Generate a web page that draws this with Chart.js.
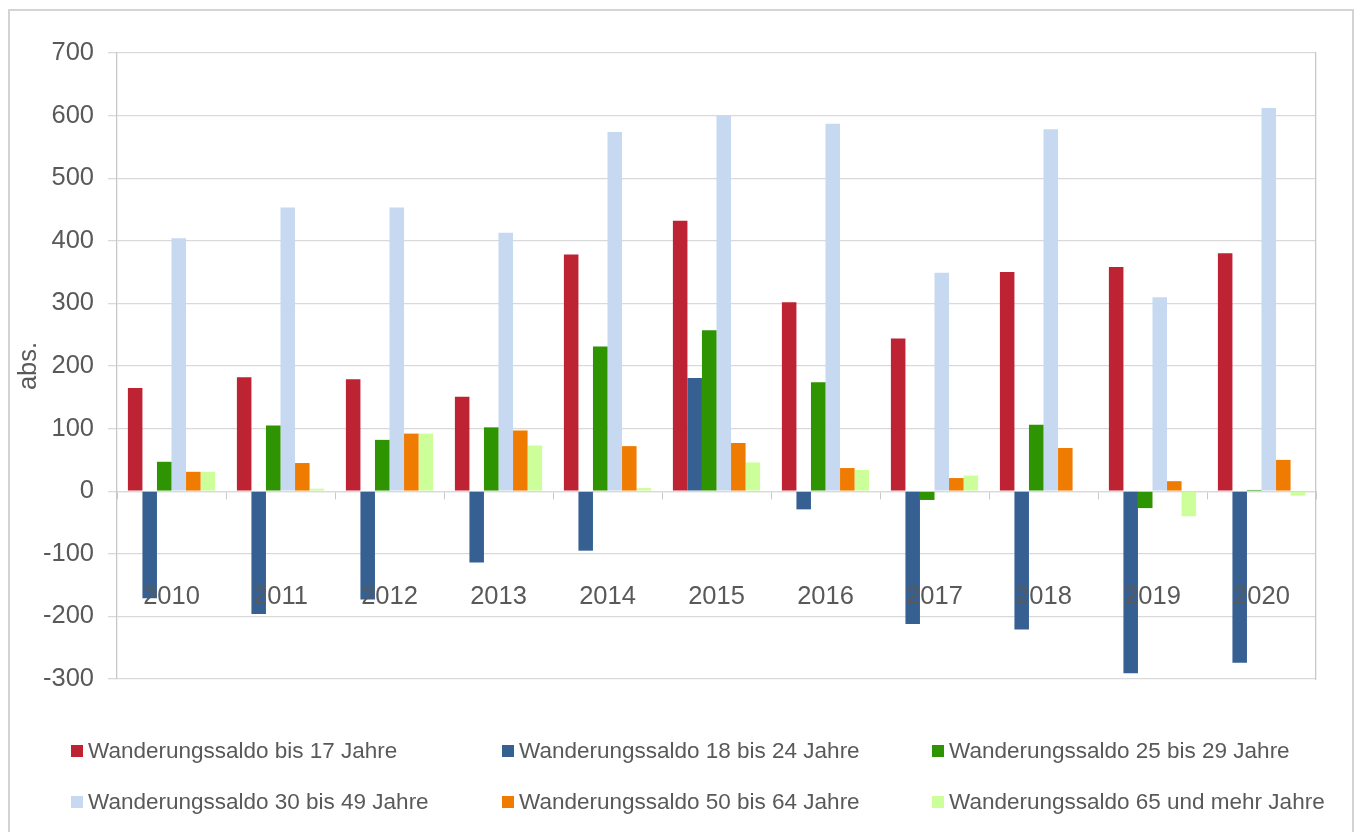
<!DOCTYPE html>
<html>
<head>
<meta charset="utf-8">
<script src="https://cdn.jsdelivr.net/npm/chart.js@4.4.1/dist/chart.umd.min.js"></script>
<style>
  html, body { margin: 0; padding: 0; background: #fff; width: 1354px; height: 832px; overflow: hidden; }
  #frame { position: absolute; left: 8px; top: 9px; width: 1346px; height: 900px; border: 2px solid #d4d4d4; box-sizing: border-box; }
  #wrap { position: absolute; left: 0; top: 0; width: 1354px; height: 832px; }
  #legend { position: absolute; left: 0; top: 0; width: 1354px; height: 832px; pointer-events: none;
            font-family: "Liberation Sans", Arial, sans-serif; font-size: 22.5px; color: #595959; }
  .item { position: absolute; display: flex; align-items: center; white-space: nowrap; height: 26px; }
  .box { width: 12px; height: 12px; margin-right: 5px; }
</style>
</head>
<body>
<div id="frame"></div>
<div id="wrap"><canvas id="c" width="1354" height="832"></canvas></div>
<div id="legend"></div>
<script>
// ---- data ----
const years = ['2010', '2011', '2012', '2013', '2014', '2015', '2016', '2017', '2018', '2019', '2020'];
const seriesLabels = [
  'Wanderungssaldo bis 17 Jahre',
  'Wanderungssaldo 18 bis 24 Jahre',
  'Wanderungssaldo 25 bis 29 Jahre',
  'Wanderungssaldo 30 bis 49 Jahre',
  'Wanderungssaldo 50 bis 64 Jahre',
  'Wanderungssaldo 65 und mehr Jahre'
];
const bis17   = [165, 182, 179, 151, 378, 432, 302, 244, 350, 358, 380];
const von18   = [-171, -196, -173, -114, -95, 181, -29, -212, -221, -291, -274];
const von25   = [47, 105, 82, 102, 231, 257, 174, -14, 106, -27, 2];
const von30   = [404, 453, 453, 413, 574, 600, 587, 349, 578, 310, 612];
const von50   = [31, 45, 92, 97, 72, 77, 37, 21, 69, 16, 50];
const ab65    = [31, 4, 92, 73, 5, 46, 34, 25, 1, -40, -7];
const seriesColors = ['#bd2332', '#366092', '#2e9401', '#c6d9f1', '#ef7b00', '#ccff99'];
const yTitle = 'abs.';

const allValues = [bis17, von18, von25, von30, von50, ab65];
const FONT = '"Liberation Sans", Arial, sans-serif';
const TXT = '#595959';
const GRID = '#d9d9d9';

const datasets = allValues.map((v, i) => ({
  label: seriesLabels[i],
  data: v,
  backgroundColor: seriesColors[i],
  borderWidth: 0,
  categoryPercentage: 0.8,
  barPercentage: 1.0
}));

new Chart(document.getElementById('c'), {
  type: 'bar',
  data: { labels: years, datasets: datasets },
  options: {
    responsive: false,
    animation: false,
    layout: { padding: { top: 53, right: 38, bottom: 153, left: 0 } },
    plugins: { legend: { display: false }, tooltip: { enabled: false } },
    scales: {
      x: {
        position: { y: 0 },
        offset: true,
        afterFit: (s) => { s.paddingLeft = 0; s.paddingRight = 0; },
        grid: { display: true, drawOnChartArea: false, drawTicks: true, tickLength: 7, color: '#c8c8c8', offset: true },
        border: { display: true, color: GRID, width: 1.3 },
        ticks: { z: 1, color: TXT, font: { family: FONT, size: 25.5 }, padding: 83, maxRotation: 0 }
      },
      y: {
        position: 'left',
        min: -300, max: 700,
        afterFit: (s) => { s.width = 117; },
        ticks: { stepSize: 100, color: TXT, font: { family: FONT, size: 25.5 }, padding: 14 },
        grid: { color: GRID, lineWidth: 1.3, tickLength: 9, drawTicks: true },
        border: { display: true, color: '#c8c8c8', width: 1.3 },
        title: { display: true, text: yTitle, color: TXT, font: { family: FONT, size: 25.5 }, padding: { top: 14, bottom: 0 } }
      },
      yRight: {
        position: 'right',
        min: -300, max: 700,
        afterFit: (s) => { s.width = 0; },
        ticks: { display: false },
        grid: { drawOnChartArea: false, drawTicks: false },
        border: { display: true, color: '#c8c8c8', width: 1.3 }
      }
    }
  }
});

// HTML legend (3 columns x 2 rows)
const legend = document.getElementById('legend');
const colX = [71, 502, 932];
const rowY = [751, 802];
seriesLabels.forEach((lab, i) => {
  const d = document.createElement('div');
  d.className = 'item';
  d.style.left = colX[i % 3] + 'px';
  d.style.top = (rowY[Math.floor(i / 3)] - 13) + 'px';
  const b = document.createElement('span');
  b.className = 'box';
  b.style.background = seriesColors[i];
  const t = document.createElement('span');
  t.textContent = lab;
  d.appendChild(b); d.appendChild(t);
  legend.appendChild(d);
});
</script>
</body>
</html>
